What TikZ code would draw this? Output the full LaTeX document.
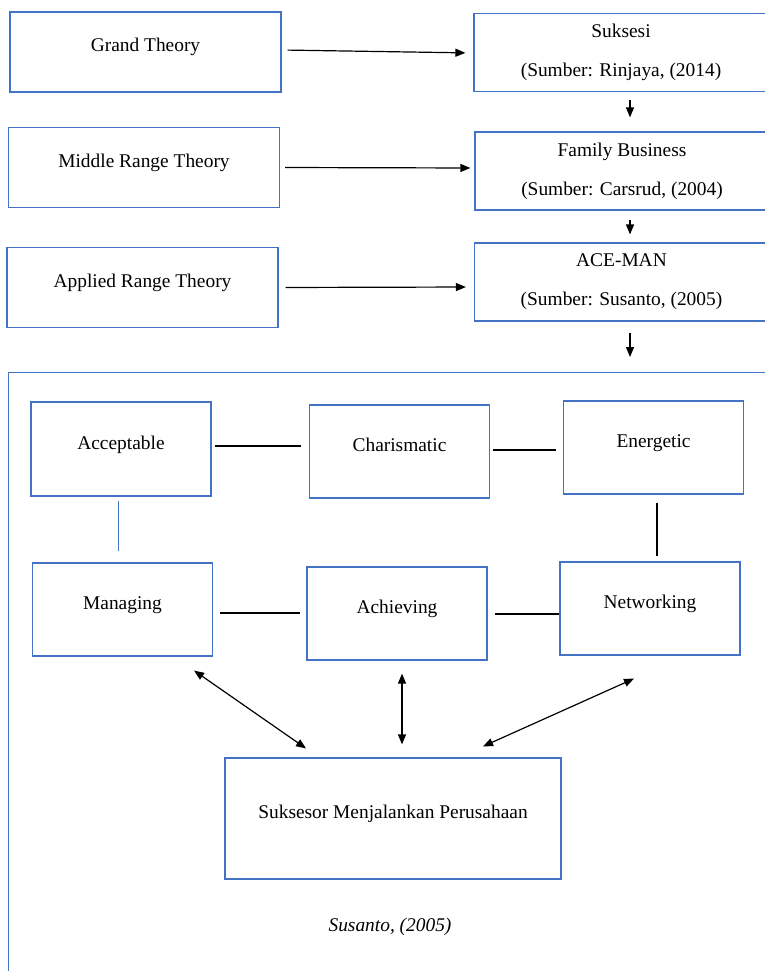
\documentclass[tikz,border=0pt]{standalone}
\usepackage{fontspec}
\setmainfont{Liberation Serif}
\usepackage{tikz}
\usetikzlibrary{arrows.meta,positioning}
\definecolor{boxblue}{RGB}{68,114,196}

\begin{document}
\begin{tikzpicture}[x=1pt,y=-1pt,line width=1.2pt,
                    >={Triangle[length=10pt,width=8pt]},
                    main node/.style={rectangle,draw=boxblue,line width=1.2pt,inner sep=0pt,font=\fontsize{19.4}{39}\selectfont},
                    theory node/.style={main node,minimum width=271pt,minimum height=80pt,text height=14pt,text depth=14pt},
                    source node/.style={main node,minimum width=294pt,minimum height=78pt,align=center},
                    trait node/.style={main node,minimum width=180pt,minimum height=93pt,text height=14pt,text depth=14pt}]

%PAGE SIZE
  \useasboundingbox (0,0) rectangle (765,971);
  \clip (0,0) rectangle (765,971);

%DRAWING THEORY LEVELS
  \node[theory node] (Grand) at (145.5,52) {Grand Theory};
  \node[theory node] (Middle) at (144,167.5) {Middle Range Theory};
  \node[theory node] (Applied) at (142.5,287.5) {Applied Range Theory};

  \node[source node] (Suksesi) at (621,52.5) {Suksesi\\(Sumber: Rinjaya, (2014)};
  \node[source node] (Family) at (622,171) {Family Business\\(Sumber: Carsrud, (2004)};
  \node[source node] (AceMan) at (621.5,282) {ACE-MAN\\(Sumber: Susanto, (2005)};

  \draw[->,shorten <=6pt,shorten >=8pt] ([yshift=2pt]Grand.east) -- ([yshift=-0.5pt]Suksesi.west);
  \draw[->,shorten <=5pt,shorten >=4pt] (Middle.east) -- ([yshift=3pt]Family.west);
  \draw[->,shorten <=7pt,shorten >=8pt] (Applied.east) -- ([yshift=-5pt]AceMan.west);

  \draw[->,shorten <=8pt,shorten >=14pt] ([xshift=9pt]Suksesi.south) -- ([xshift=8pt]Family.north);
  \draw[->,shorten <=9pt,shorten >=8pt] ([xshift=8pt]Family.south) -- ([xshift=8.5pt]AceMan.north);

%DRAWING ACE-MAN FRAME
  \coordinate (FrameCorner) at (8,372);
  \coordinate (FrameTop) at (630,372);
  \draw[draw=boxblue,line width=1pt] (8,990) -- (FrameCorner) -- (780,372);
  \draw[->,shorten <=11pt,shorten >=15pt] ([xshift=8.5pt]AceMan.south) -- (FrameTop);

  \node[trait node,minimum height=94pt] (Acceptable) at (121,449) {Acceptable};
  \node[trait node] (Charismatic) at (399.5,451.5) {Charismatic};
  \node[trait node] (Energetic) at (653.5,447.5) {Energetic};
  \node[trait node] (Managing) at (122.5,609.5) {Managing};
  \node[trait node] (Achieving) at (397,613.5) {Achieving};
  \node[trait node] (Networking) at (650,608.5) {Networking};

  \draw[shorten <=3pt,shorten >=8pt] ([yshift=3pt]Acceptable.east) -- ([yshift=5.5pt]Charismatic.west);
  \draw[shorten <=3pt,shorten >=7pt] ([yshift=1.5pt]Charismatic.east) -- ([yshift=-2.5pt]Energetic.west);
  \draw[draw=boxblue,line width=1pt,shorten <=4pt,shorten >=11pt] ([xshift=-3pt]Acceptable.south) -- ([xshift=-4.5pt]Managing.north);
  \draw[shorten <=8pt,shorten >=5pt] ([xshift=3.5pt]Energetic.south) -- ([xshift=7pt]Networking.north);
  \draw[shorten <=7pt,shorten >=6pt] ([yshift=-3.5pt]Managing.east) -- ([yshift=0.5pt]Achieving.west);
  \draw[shorten <=7pt] ([yshift=-0.5pt]Achieving.east) -- ([yshift=-5.5pt]Networking.west);

%DRAWING SUCCESSOR
  \node[main node,minimum width=336pt,minimum height=121pt,text height=14pt,text depth=14pt] (Suksesor) at (393,818.5) {Suksesor Menjalankan Perusahaan};

  \draw[<->] ([shift={(-19,14)}]Managing.south east) -- ([shift={(-87,-9)}]Suksesor.north);
  \draw[<->] ([shift={(5,13)}]Achieving.south) -- ([shift={(9,-13)}]Suksesor.north);
  \draw[<->] ([shift={(-16,23)}]Networking.south) -- ([shift={(90,-11)}]Suksesor.north);

  \node[font=\fontsize{19.4}{23}\selectfont\itshape] (Source) at (390,927) {Susanto, (2005)};

\end{tikzpicture}
\end{document}
